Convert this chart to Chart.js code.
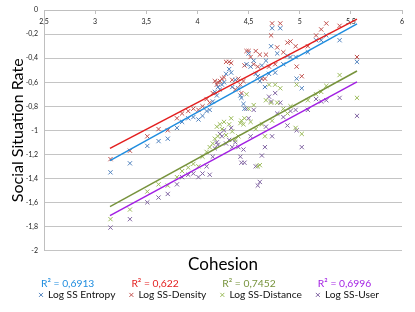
<!DOCTYPE html>
<html lang="en">
<head>
    <meta charset="UTF-8">
    <title>Cohesion vs Social Situation Rate</title>
    <style>
        html, body { margin: 0; padding: 0; background: #fff; }
        .wrap { width: 415px; height: 312px; }
    </style>
</head>
<body>
<div class="wrap"><canvas id="myChart" width="415" height="312"></canvas></div>

<script src="https://cdn.jsdelivr.net/npm/chart.js"></script>
<script>
    // cohesion value of each subject (shared x for all four series)
    const cohesion = [3.15, 3.34, 3.51, 3.62, 3.71, 3.80, 3.85, 3.91, 3.96, 4.01,
        4.05, 4.09, 4.12, 4.15, 4.17, 4.19, 4.20, 4.22, 4.24, 4.26,
        4.28, 4.31, 4.33, 4.34, 4.37, 4.40, 4.42, 4.43, 4.45, 4.46,
        4.48, 4.50, 4.52, 4.55, 4.57, 4.59, 4.61, 4.63, 4.66, 4.67,
        4.70, 4.72, 4.73, 4.76, 4.78, 4.81, 4.84, 4.88, 4.91, 4.96,
        4.97, 5.02, 5.08, 5.16, 5.21, 5.26, 5.39, 5.56];

    const ssEntropy = [-1.35, -1.275, -1.13, -1.09, -1.07, -0.98, -0.93, -0.90, -0.89, -0.91,
        -0.88, -0.84, -0.83, -0.76, -0.68, -0.71, -0.64, -0.66, -0.62, -0.60,
        -0.53, -0.49, -0.52, -0.64, -0.58, -0.65, -0.71, -0.73, -0.78, -0.82,
        -0.45, -0.36, -0.47, -0.42, -0.53, -0.55, -0.59, -0.46, -0.64, -0.42,
        -0.53, -0.30, -0.15, -0.52, -0.36, -0.15, -0.45, -0.38, -0.39, -0.39,
        -0.57, -0.65, -0.35, -0.25, -0.25, -0.21, -0.25, -0.43];

    const ssDensity = [-1.24, -1.17, -1.05, -0.99, -1.00, -0.90, -0.86, -0.84, -0.82, -0.83,
        -0.80, -0.74, -0.77, -0.69, -0.59, -0.62, -0.60, -0.59, -0.57, -0.56,
        -0.43, -0.43, -0.44, -0.58, -0.66, -0.57, -0.62, -0.69, -0.59, -0.46,
        -0.34, -0.34, -0.39, -0.45, -0.34, -0.47, -0.37, -0.57, -0.57, -0.37,
        -0.47, -0.21, -0.11, -0.45, -0.31, -0.11, -0.35, -0.27, -0.26, -0.30,
        -0.47, -0.55, -0.30, -0.21, -0.16, -0.11, -0.13, -0.39];

    const ssDistance = [-1.74, -1.66, -1.51, -1.45, -1.46, -1.39, -1.34, -1.31, -1.28, -1.30,
        -1.22, -1.18, -1.14, -1.11, -1.07, -0.97, -1.05, -0.95, -0.99, -0.93,
        -1.04, -0.95, -0.90, -1.01, -1.08, -1.05, -0.94, -0.92, -0.95, -0.90,
        -0.70, -0.82, -0.93, -0.79, -0.99, -1.30, -1.29, -0.95, -1.05, -0.75,
        -0.62, -0.77, -0.92, -0.62, -0.77, -0.65, -0.82, -0.86, -0.80, -0.98,
        -0.62, -1.03, -0.75, -0.70, -0.68, -0.63, -0.54, -0.73];

    const ssUser = [-1.81, -1.74, -1.60, -1.56, -1.53, -1.45, -1.39, -1.37, -1.36, -1.39,
        -1.36, -1.30, -1.37, -1.22, -1.15, -1.10, -1.12, -1.03, -1.05, -1.00,
        -1.11, -1.08, -0.98, -1.14, -1.10, -1.14, -1.22, -1.27, -1.16, -1.27,
        -0.82, -0.90, -1.05, -0.83, -1.30, -1.46, -1.43, -1.21, -1.14, -0.97,
        -0.72, -0.76, -1.05, -0.69, -0.86, -0.77, -0.89, -0.96, -0.84, -0.83,
        -1.00, -1.14, -0.83, -0.74, -0.76, -0.75, -0.73, -0.88];

    // linear trend lines, start and end as drawn in the picture
    const trendX = [3.145, 5.56];
    const trendEntropy = [-1.253, -0.114];
    const trendDensity = [-1.15, -0.075];
    const trendDistance = [-1.636, -0.506];
    const trendUser = [-1.711, -0.597];

    // axis ticks
    const xTicks = [2.5, 3, 3.5, 4, 4.5, 5, 5.5, 6];
    const yTicks = [-2, -1.8, -1.6, -1.4, -1.2, -1, -0.8, -0.6, -0.4, -0.2, 0];

    const seriesNames = ['Log SS Entropy', 'Log SS-Density', 'Log SS-Distance', 'Log SS-User'];
    const r2Labels = ['R\u00B2 = 0,6913', 'R\u00B2 = 0,622', 'R\u00B2 = 0,7452', 'R\u00B2 = 0,6996'];

    const markerColors = ['#4f81bd', '#c0504d', '#9bbb59', '#8064a2'];
    const lineColors = ['#1f8ddf', '#e31e1e', '#77933c', '#a21fe3'];
    const FONT = 'Lato';

    function toPoints(xs, ys) {
        return xs.map((x, i) => ({ x: x, y: ys[i] }));
    }
    function commaNum(v) {
        return String(Math.round(v * 10) / 10).replace('.', ',');
    }

    const values = [ssEntropy, ssDensity, ssDistance, ssUser];
    const trends = [trendEntropy, trendDensity, trendDistance, trendUser];

    const datasets = [];
    values.forEach((vals, i) => {
        datasets.push({
            label: seriesNames[i],
            data: toPoints(cohesion, vals),
            pointStyle: 'crossRot',
            pointRadius: 3,
            pointHoverRadius: 3,
            borderWidth: 1,
            borderColor: markerColors[i],
            backgroundColor: markerColors[i],
            order: 1
        });
    });
    trends.forEach((vals, i) => {
        datasets.push({
            label: 'trend ' + seriesNames[i],
            data: toPoints(trendX, vals),
            showLine: true,
            pointRadius: 0,
            borderWidth: 1.5,
            borderColor: lineColors[i],
            backgroundColor: lineColors[i],
            order: 0
        });
    });

    // legend row starts under the plot like the Excel legend, R² text above each entry
    const legendPlugin = {
        id: 'r2Text',
        afterLayout(chart) {
            if (chart.legend) chart.legend.left = 25;
        },
        afterDraw(chart) {
            const legend = chart.legend;
            if (!legend || !legend.legendHitBoxes) return;
            const ctx = chart.ctx;
            ctx.save();
            ctx.font = '10.3px ' + FONT;
            ctx.textAlign = 'left';
            ctx.textBaseline = 'middle';
            legend.legendItems.forEach((item, i) => {
                const box = legend.legendHitBoxes[i];
                ctx.fillStyle = lineColors[item.datasetIndex];
                ctx.fillText(r2Labels[item.datasetIndex], box.left + 2, box.top - 6);
            });
            ctx.restore();
        }
    };

    const myChart = new Chart(document.getElementById('myChart'), {
        type: 'scatter',
        data: { datasets: datasets },
        options: {
            responsive: false,
            animation: false,
            devicePixelRatio: 1,
            layout: { padding: { left: 0, right: 13, top: 5.8, bottom: 2 } },
            scales: {
                x: {
                    type: 'linear',
                    position: { y: 0 },
                    min: 2.5,
                    max: 6,
                    afterBuildTicks: s => { s.ticks = xTicks.map(v => ({ value: v })); },
                    grid: { drawOnChartArea: false, drawTicks: true, tickLength: 3, color: '#bfbfbf' },
                    border: { display: true, color: '#bfbfbf', width: 1 },
                    ticks: {
                        padding: 4,
                        color: '#222',
                        font: { family: FONT, size: 7 },
                        callback: v => commaNum(v)
                    }
                },
                // carries only the "Cohesion" title under the plot
                xTitle: {
                    type: 'linear',
                    axis: 'x',
                    position: 'bottom',
                    min: 2.5,
                    max: 6,
                    grid: { display: false, drawTicks: false },
                    border: { display: false },
                    ticks: { display: false },
                    title: {
                        display: true,
                        text: 'Cohesion',
                        color: '#000',
                        font: { family: FONT, size: 17 },
                        padding: { top: 4, bottom: 1 }
                    }
                },
                y: {
                    type: 'linear',
                    position: 'left',
                    min: -2,
                    max: 0,
                    afterBuildTicks: s => { s.ticks = yTicks.map(v => ({ value: v })); },
                    afterFit: s => { s.width = 44; },
                    grid: { color: '#c4c4c4', lineWidth: 1, drawTicks: false },
                    border: { display: true, color: '#bfbfbf', width: 1 },
                    ticks: {
                        padding: 6,
                        color: '#222',
                        font: { family: FONT, size: 7 },
                        callback: v => commaNum(v)
                    },
                    title: {
                        display: true,
                        text: 'Social Situation Rate',
                        color: '#000',
                        font: { family: FONT, size: 16 },
                        padding: { top: 8, bottom: 0 }
                    }
                }
            },
            plugins: {
                legend: {
                    position: 'bottom',
                    align: 'start',
                    labels: {
                        filter: item => item.datasetIndex < 4,
                        usePointStyle: true,
                        boxWidth: 4,
                        boxHeight: 4,
                        padding: 14,
                        color: '#111',
                        font: { family: FONT, size: 10.2 }
                    }
                },
                tooltip: { enabled: false }
            }
        },
        plugins: [legendPlugin]
    });
</script>
</body>
</html>
